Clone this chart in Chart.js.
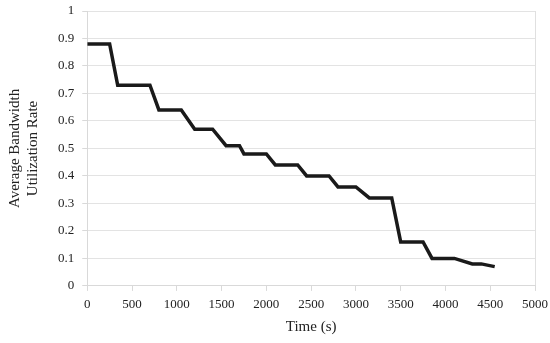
<!DOCTYPE html>
<html>
<head>
<meta charset="utf-8">
<script src="https://cdn.jsdelivr.net/npm/chart.js@4"></script>
<style>
  html, body { margin: 0; padding: 0; background: #fff; }
  #wrap { width: 550px; height: 343px; }
</style>
</head>
<body>
<div id="wrap"><canvas id="myChart"></canvas></div>
<script>
// time in seconds
const time_values = [0, 250, 340, 700, 800, 1050, 1200, 1400, 1550, 1700, 1750, 2000, 2100, 2350, 2450, 2700, 2800, 3000, 3150, 3400, 3500, 3750, 3850, 4100, 4300, 4400, 4550];
const rate_values = [0.88, 0.88, 0.73, 0.73, 0.64, 0.64, 0.57, 0.57, 0.51, 0.51, 0.48, 0.48, 0.44, 0.44, 0.40, 0.40, 0.36, 0.36, 0.32, 0.32, 0.16, 0.16, 0.10, 0.10, 0.08, 0.08, 0.07];
const x_title = 'Time (s)';
const y_title = ['Average Bandwidth', 'Utilization Rate'];

const points = time_values.map((t, i) => ({ x: t, y: rate_values[i] }));

Chart.defaults.font.family = '"Liberation Serif", "Times New Roman", serif';
Chart.defaults.color = '#333';

const ctx = document.getElementById('myChart');

new Chart(ctx,
{
    type: 'line',
    data:
    {
        datasets:
        [
            {
                data: points,
                borderColor: '#1a1a1a',
                borderWidth: 3.5,
                pointRadius: 0,
                tension: 0,
                fill: false
            }
        ]
    },
    options:
    {
        responsive: true,
        maintainAspectRatio: false,
        animation: false,
        layout: { padding: { top: 11, right: 15, bottom: 1.5, left: 2 } },
        scales:
        {
            x:
            {
                type: 'linear',
                min: 0,
                max: 5000,
                // let the last label hang past the plot edge
                afterFit: (scale) => { scale.paddingRight = 0; },
                ticks:
                {
                    stepSize: 500,
                    font: { size: 13 },
                    color: '#222',
                    maxRotation: 0,
                    padding: 6,
                    callback: (v) => String(v)
                },
                grid:
                {
                    color: (c) => c.tick && c.tick.value === 5000 ? '#e0e0e0' : 'rgba(0,0,0,0)',
                    tickColor: '#d9d9d9',
                    tickLength: 5
                },
                border: { color: '#d9d9d9' },
                title: { display: true, text: x_title, font: { size: 15 }, color: '#222', padding: { top: 0, bottom: 5 } }
            },
            y:
            {
                min: 0,
                max: 1,
                afterFit: (scale) => { scale.paddingTop = 0; },
                ticks:
                {
                    stepSize: 0.1,
                    font: { size: 13 },
                    color: '#222',
                    padding: 8,
                    callback: (v) => String(Math.round(v * 10) / 10)
                },
                grid: { color: '#e3e3e3', tickColor: '#d9d9d9', tickLength: 5 },
                border: { color: '#d9d9d9' },
                title: { display: true, text: y_title, font: { size: 15 }, color: '#222', padding: { bottom: 8 } }
            }
        },
        plugins:
        {
            legend: { display: false },
            tooltip: { enabled: false }
        }
    }
});
</script>
</body>
</html>
